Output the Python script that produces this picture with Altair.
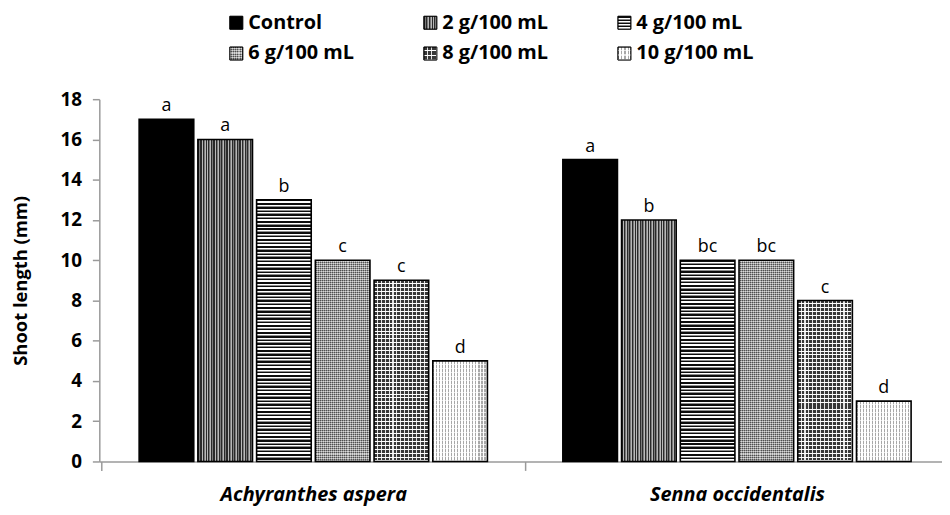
import altair as alt

# ---------------- data ----------------
species = ["Achyranthes aspera", "Senna occidentalis"]
treatments = ["Control", "2 g/100 mL", "4 g/100 mL", "6 g/100 mL", "8 g/100 mL", "10 g/100 mL"]
values_achyranthes = [17, 16, 13, 10, 9, 5]
values_senna = [15, 12, 10, 10, 8, 3]
letters_achyranthes = ["a", "a", "b", "c", "c", "d"]
letters_senna = ["a", "b", "bc", "bc", "c", "d"]

FONT = "Open Sans"
PX_PER_UNIT = 365 / 18.0


# ---------------- pattern helpers (gradients used as stripe fills) ----------------
def stripes(direction, n, parts):
    stops = []
    for i in range(n):
        acc = 0.0
        for color, frac in parts:
            a = (i + acc) / n
            b = (i + acc + frac) / n
            stops.append({"offset": round(min(a, 1.0), 5), "color": color})
            stops.append({"offset": round(min(b, 1.0), 5), "color": color})
            acc += frac
    g = {"gradient": "linear", "x1": 0, "y1": 0, "stops": stops}
    if direction == "v":
        g.update({"x2": 1, "y2": 0})
    else:
        g.update({"x2": 0, "y2": 1})
    return g


def patterns(t_index, h_px, w_px):
    """return (base fill, overlay fill or None) for a box of h_px x w_px"""
    nv = lambda period: max(1, round(w_px / period))
    nh = lambda period: max(1, round(h_px / period))
    if t_index == 0:
        return "#000000", None
    if t_index == 1:
        return stripes("v", nv(2.6), [("#2a2a2a", 0.4), ("#7a7a7a", 0.3), ("#b8b8b8", 0.3)]), None
    if t_index == 2:
        return stripes("h", nh(3.6), [("#0d0d0d", 0.45), ("#ffffff", 0.35), ("#8c8c8c", 0.2)]), None
    if t_index == 3:
        return (stripes("h", nh(2.0), [("#5e5e5e", 0.5), ("#c4c4c4", 0.5)]),
                stripes("v", nv(2.0), [("rgba(255,255,255,0.35)", 0.5), ("rgba(0,0,0,0.15)", 0.5)]))
    if t_index == 4:
        return (stripes("h", nh(4.0), [("#383838", 0.75), ("#ffffff", 0.25)]),
                stripes("v", nv(4.0), [("rgba(0,0,0,0)", 0.72), ("rgba(255,255,255,0.85)", 0.28)]))
    return (stripes("v", nv(3.0), [("#a8a8a8", 0.4), ("#ffffff", 0.6)]),
            stripes("h", nh(4.0), [("rgba(255,255,255,0)", 0.7), ("rgba(255,255,255,0.7)", 0.3)]))


# ---------------- tables ----------------
BAR_W = 55
rows = []
for sp, vals, lets in [(species[0], values_achyranthes, letters_achyranthes),
                       (species[1], values_senna, letters_senna)]:
    for i, (t, v, l) in enumerate(zip(treatments, vals, lets)):
        base, over = patterns(i, v * PX_PER_UNIT, BAR_W)
        r = {"species": sp, "treatment": t, "value": v, "letter": l, "pat": base}
        if over is not None:
            r["over"] = over
        rows.append(r)

legend_rows = []
for i, t in enumerate(treatments):
    base, over = patterns(i, 13, 13)
    r = {"treatment": t, "col": i % 3, "row": i // 3, "pat": base}
    if over is not None:
        r["over"] = over
    legend_rows.append(r)

bar_data = alt.Data(values=rows)
leg_data = alt.Data(values=legend_rows)

# ---------------- main bars ----------------
x_enc = alt.X(
    "species:N",
    sort=species,
    scale=alt.Scale(range=[0, 858], paddingInner=0.178, paddingOuter=0.094, round=False),
    axis=alt.Axis(
        title=None,
        labelAngle=0,
        labelFont=FONT,
        labelFontSize=20,
        labelFontWeight="bold",
        labelFontStyle="italic",
        labelColor="#000000",
        labelPadding=14,
        labelLimit=500,
        labelOverlap=False,
        tickSize=9,
        tickColor="#9a9a9a",
        tickWidth=1.5,
        tickOffset=-213.5,
        labelOffset=213.5,
        domainColor="#9a9a9a",
        domainWidth=1.5,
    ),
)
xo_enc = alt.XOffset("treatment:N", sort=treatments,
                     scale=alt.Scale(paddingInner=0.07, paddingOuter=0, round=False))
y_enc = alt.Y(
    "value:Q",
    stack=None,
    scale=alt.Scale(domain=[0, 18], nice=False),
    axis=alt.Axis(
        values=list(range(0, 19, 2)),
        title="Shoot length (mm)",
        titleFont=FONT,
        titleFontSize=18.5,
        titleFontWeight="bold",
        titleColor="#000000",
        titlePadding=30,
        labelFont=FONT,
        labelFontSize=19,
        labelFontWeight="bold",
        labelColor="#000000",
        labelPadding=11,
        tickSize=7,
        tickColor="#9a9a9a",
        tickWidth=1.5,
        domainColor="#9a9a9a",
        domainWidth=1.5,
        grid=False,
    ),
)

base_bars = alt.Chart(bar_data).mark_bar(strokeWidth=0).encode(
    x=x_enc, xOffset=xo_enc, y=y_enc,
    fill=alt.Fill("pat:N", scale=None),
)
over_bars = alt.Chart(bar_data).transform_filter("isValid(datum.over)").mark_bar(strokeWidth=0).encode(
    x=x_enc, xOffset=xo_enc, y=y_enc,
    fill=alt.Fill("over:N", scale=None),
)
outline = alt.Chart(bar_data).mark_bar(fillOpacity=0, stroke="#000000", strokeWidth=1.6).encode(
    x=x_enc, xOffset=xo_enc, y=y_enc,
)
letters = alt.Chart(bar_data).mark_text(
    baseline="bottom", dy=-4, font=FONT, fontSize=18, color="#000000"
).encode(x=x_enc, xOffset=xo_enc, y=y_enc, text="letter:N")

main = alt.layer(base_bars, over_bars, outline, letters)

# ---------------- legend ----------------
lx = alt.X("col:Q", scale=alt.Scale(domain=[0, 2], range=[138, 529]), axis=None)
ly = alt.Y("row:Q", scale=alt.Scale(domain=[0, 1], range=[-77, -46]), axis=None)

leg_sym = alt.Chart(leg_data).mark_square(size=169, opacity=1, strokeWidth=0.8, stroke="#000000").encode(
    x=lx, y=ly, fill=alt.Fill("pat:N", scale=None)
)
leg_over = alt.Chart(leg_data).transform_filter("isValid(datum.over)").mark_square(
    size=169, opacity=1, strokeWidth=0).encode(
    x=lx, y=ly, fill=alt.Fill("over:N", scale=None)
)
leg_out = alt.Chart(leg_data).mark_square(size=169, fillOpacity=0, strokeWidth=0.8, stroke="#000000").encode(
    x=lx, y=ly
)
leg_txt = alt.Chart(leg_data).mark_text(
    align="left", baseline="middle", dx=12, font=FONT, fontSize=20, fontWeight="bold", color="#000000"
).encode(x=lx, y=ly, text="treatment:N")

legend = alt.layer(leg_sym, leg_over, leg_out, leg_txt)

chart = alt.layer(main, legend).resolve_scale(x="independent", y="independent").properties(
    width=849,
    height=365,
    autosize=alt.AutoSizeParams(type="none"),
    padding={"left": 92, "top": 90, "right": 0, "bottom": 44},
    background="#ffffff",
).configure_view(stroke=None)

chart.save("out.html", embed_options={"renderer": "svg", "actions": False})
